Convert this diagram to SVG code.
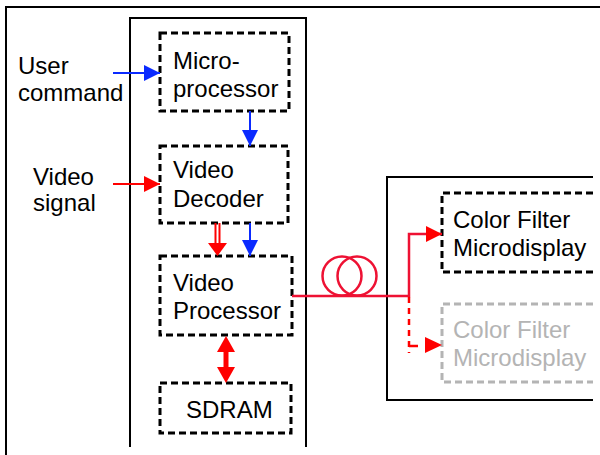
<svg xmlns="http://www.w3.org/2000/svg" width="600" height="455" viewBox="0 0 600 455">
<style>
text{font-family:"Liberation Sans",Arial,sans-serif;font-size:24px;fill:#000}
.frame{fill:none;stroke:#000;stroke-width:2}
.box{fill:none;stroke:#000;stroke-width:3;stroke-dasharray:7 4}
.gbox{fill:none;stroke:#b4b4b4;stroke-width:3;stroke-dasharray:7 4}
.gt{fill:#b4b4b4}
.blue{stroke:#0a2aff;stroke-width:2;fill:none}
.red{stroke:#ff0000;stroke-width:2;fill:none}
.fiber{stroke:#ee1133;stroke-width:2.5;fill:none}
</style>
<defs>
<marker id="hb" markerUnits="userSpaceOnUse" viewBox="0 0 16 16" markerWidth="16" markerHeight="16" refX="16" refY="8" orient="auto"><path d="M0,0 L16,8 L0,16 z" fill="#0a2aff"/></marker>
<marker id="hr" markerUnits="userSpaceOnUse" viewBox="0 0 16 16" markerWidth="16" markerHeight="16" refX="16" refY="8" orient="auto"><path d="M0,0 L16,8 L0,16 z" fill="#ff0000"/></marker>
</defs>
<g id="frames">
<path class="frame" d="M6,455 V7 H600"/>
<path class="frame" d="M130,447 V18 H306 V447"/>
<path class="frame" d="M593,177 H387 V400 H593"/>
</g>
<g id="labels">
<text x="18" y="74">User</text>
<text x="18" y="101">command</text>
<text x="33" y="185">Video</text>
<text x="33" y="211">signal</text>
</g>
<g id="microprocessor">
<rect class="box" x="160" y="33" width="129" height="78"/>
<text x="173" y="69">Micro-</text>
<text x="173" y="97">processor</text>
</g>
<g id="video-decoder">
<rect class="box" x="160" y="146" width="128" height="77"/>
<text x="173" y="178">Video</text>
<text x="173" y="207">Decoder</text>
</g>
<g id="video-processor">
<rect class="box" x="160" y="256" width="132" height="79"/>
<text x="173" y="291">Video</text>
<text x="173" y="319">Processor</text>
</g>
<g id="sdram">
<rect class="box" x="160" y="383" width="131" height="50"/>
<text x="186" y="418">SDRAM</text>
</g>
<g id="cf-microdisplay">
<path class="box" d="M593,193 H442 V272 H593"/>
<text x="453" y="228">Color Filter</text>
<text x="453" y="256">Microdisplay</text>
</g>
<g id="cf-microdisplay-2">
<path class="gbox" d="M593,304 H442 V382 H593"/>
<text class="gt" x="453" y="338">Color Filter</text>
<text class="gt" x="453" y="366">Microdisplay</text>
</g>
<g id="connectors">
<path class="blue" d="M113,73 H160" marker-end="url(#hb)"/>
<path class="blue" d="M250,111 V146" marker-end="url(#hb)"/>
<path class="blue" d="M250,223 V256" marker-end="url(#hb)"/>
<path class="red" d="M113,184 H160" marker-end="url(#hr)"/>
<path class="red" d="M215.5,223 V245 M219.5,223 V245"/>
<polygon points="208,243 227,243 217.5,256" fill="#ff0000"/>
<path d="M226,345 V375" stroke="#ff0000" stroke-width="5"/>
<polygon points="217,352 235,352 226,336" fill="#ff0000"/>
<polygon points="217,367 235,367 226,383" fill="#ff0000"/>
<circle class="fiber" cx="342" cy="276" r="19.5"/>
<circle class="fiber" cx="357" cy="276" r="19.5"/>
<path class="fiber" d="M292,296 H409 V234 H442" marker-end="url(#hr)"/>
<path d="M409,297 V353" stroke="#ff0000" stroke-width="2.5" stroke-dasharray="6 5" fill="none"/>
<path d="M409,346 H418" stroke="#ff0000" stroke-width="2.5" fill="none"/>
<polygon points="425,337 442,345 425,353" fill="#ff0000"/>
</g>
</svg>
